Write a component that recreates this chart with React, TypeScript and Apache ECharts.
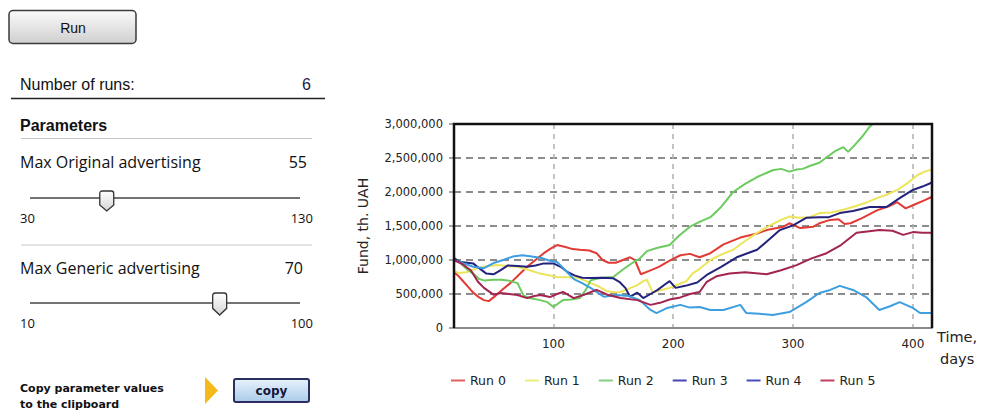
import React, { useEffect, useRef } from "react";
import * as echarts from "echarts";

const runNames = ["Run 0", "Run 1", "Run 2", "Run 3", "Run 4", "Run 5"];
const runColors = ["#e23a35", "#ece55a", "#6ccb5f", "#23237e", "#3d9ee0", "#a3244f"];
const legendColors = ["#e06060", "#ecec80", "#80d080", "#4646b8", "#4a4ac0", "#c04060"];

const run0 = [[17,820000],[21,760000],[25,680000],[29,600000],[33,520000],[38,450000],[42,410000],[46,395000],[50,450000],[57,560000],[64,660000],[71,780000],[78,900000],[85,1000000],[92,1100000],[98,1170000],[103,1220000],[110,1190000],[116,1160000],[122,1150000],[130,1140000],[136,1100000],[141,1000000],[146,960000],[152,960000],[158,1000000],[164,1040000],[168,1000000],[173,790000],[180,840000],[188,900000],[197,990000],[206,1070000],[214,1090000],[222,1040000],[231,1100000],[242,1230000],[256,1330000],[270,1390000],[278,1440000],[292,1490000],[297,1540000],[306,1470000],[317,1490000],[322,1540000],[331,1590000],[338,1600000],[343,1530000],[348,1540000],[358,1620000],[370,1730000],[380,1790000],[387,1850000],[394,1760000],[402,1820000],[410,1880000],[416,1930000]];
const run1 = [[17,840000],[21,810000],[27,820000],[35,870000],[42,900000],[53,925000],[62,910000],[70,900000],[78,860000],[87,810000],[95,780000],[103,750000],[112,745000],[120,740000],[126,700000],[131,660000],[138,610000],[145,540000],[150,525000],[156,530000],[163,580000],[170,630000],[175,690000],[178,710000],[183,520000],[190,560000],[197,590000],[204,640000],[211,690000],[216,800000],[222,870000],[231,1000000],[240,1080000],[250,1150000],[260,1280000],[270,1400000],[280,1500000],[290,1590000],[297,1640000],[305,1620000],[314,1630000],[322,1690000],[332,1700000],[342,1740000],[352,1790000],[362,1850000],[370,1910000],[378,1960000],[387,2030000],[397,2150000],[404,2250000],[410,2300000],[416,2330000]];
const run2 = [[17,1030000],[22,960000],[28,860000],[33,800000],[38,720000],[42,700000],[50,710000],[56,710000],[62,700000],[70,660000],[75,480000],[80,440000],[89,410000],[95,380000],[100,310000],[104,360000],[108,410000],[115,420000],[122,440000],[127,560000],[131,700000],[140,740000],[150,750000],[158,860000],[167,970000],[172,1020000],[178,1130000],[187,1180000],[197,1220000],[205,1360000],[214,1490000],[222,1560000],[231,1630000],[240,1780000],[250,2000000],[260,2120000],[270,2220000],[283,2320000],[290,2340000],[297,2300000],[303,2330000],[308,2340000],[315,2390000],[322,2430000],[328,2510000],[335,2600000],[342,2660000],[346,2590000],[352,2700000],[358,2820000],[364,2960000],[370,3060000],[376,3150000]];
const run3 = [[17,1030000],[22,970000],[28,960000],[33,950000],[38,880000],[44,800000],[50,790000],[56,850000],[62,920000],[70,910000],[78,900000],[85,920000],[92,950000],[100,950000],[106,900000],[112,820000],[118,770000],[124,740000],[131,735000],[140,740000],[150,730000],[155,680000],[160,590000],[164,460000],[170,520000],[175,440000],[181,500000],[187,560000],[193,640000],[197,690000],[202,590000],[210,620000],[220,670000],[228,780000],[240,900000],[253,1040000],[262,1100000],[270,1150000],[280,1300000],[289,1440000],[300,1510000],[311,1620000],[322,1630000],[330,1630000],[339,1690000],[350,1720000],[364,1780000],[378,1780000],[389,1910000],[400,2030000],[408,2080000],[416,2140000]];
const run4 = [[17,1000000],[25,950000],[33,900000],[42,880000],[50,955000],[58,1000000],[66,1050000],[74,1070000],[82,1050000],[90,1030000],[97,990000],[103,970000],[110,850000],[117,720000],[124,660000],[132,580000],[142,460000],[153,485000],[163,470000],[172,410000],[181,265000],[186,220000],[195,295000],[206,340000],[214,300000],[222,310000],[231,265000],[242,265000],[256,340000],[261,220000],[272,210000],[283,190000],[297,235000],[311,380000],[322,515000],[331,560000],[339,620000],[350,560000],[361,455000],[372,265000],[381,320000],[389,380000],[400,295000],[406,220000],[416,220000]];
const run5 = [[17,1000000],[24,940000],[31,850000],[37,680000],[42,590000],[50,490000],[56,515000],[63,500000],[70,485000],[78,440000],[84,470000],[89,485000],[97,455000],[103,500000],[108,530000],[113,480000],[117,440000],[125,485000],[136,560000],[145,490000],[156,440000],[170,410000],[181,340000],[189,370000],[197,420000],[206,450000],[214,500000],[222,530000],[228,680000],[236,760000],[247,800000],[260,820000],[278,790000],[290,850000],[303,925000],[315,1020000],[328,1100000],[340,1220000],[353,1400000],[362,1420000],[372,1440000],[383,1430000],[392,1370000],[400,1410000],[408,1400000],[416,1400000]];
const runData = [run0, run1, run2, run3, run4, run5];

const xMin = 17;
const xMax = 416;
const yMax = 3000000;
const yStep = 500000;

const numberOfRuns = "6";
const param1 = { label: "Max Original advertising", value: 55, min: 30, max: 130 };
const param2 = { label: "Max Generic advertising", value: 70, min: 10, max: 100 };

echarts.graphic.registerShape(
  "thumb",
  echarts.graphic.extendPath("M2.5,0 L11.5,0 Q14,0 14,2.5 L14,14 L7,20 L0,14 L0,2.5 Q0,0 2.5,0 Z", {})
);

const trackLeft = 30;
const trackRight = 300;
const thumbLeft = 39;
const thumbRight = 310;

function sliderX(p: { value: number; min: number; max: number }) {
  return thumbLeft + ((p.value - p.min) / (p.max - p.min)) * (thumbRight - thumbLeft);
}

const G = { left: 454, top: 124, width: 478, height: 204 };

function panelGraphics() {
  const txt = (x: number, y: number, text: string, font: string, fill = "#111", align = "left") => ({
    type: "text",
    x,
    y,
    style: { text, font, fill, textAlign: align, textVerticalAlign: "middle" },
  });
  const line = (x1: number, y1: number, x2: number, y2: number, stroke: string, w: number) => ({
    type: "line",
    shape: { x1, y1, x2, y2 },
    style: { stroke, lineWidth: w },
  });
  const thumbFill = {
    type: "linear", x: 0, y: 0, x2: 0, y2: 1,
    colorStops: [{ offset: 0, color: "#ffffff" }, { offset: 1, color: "#d4d4d4" }],
  };
  const t1 = sliderX(param1);
  const t2 = sliderX(param2);
  const labelFont = '16px "Open Sans"';
  return [
    {
      type: "rect",
      shape: { x: 9, y: 10.5, width: 127, height: 33, r: 4 },
      style: {
        fill: { type: "linear", x: 0, y: 0, x2: 0, y2: 1, colorStops: [{ offset: 0, color: "#fbfbfb" }, { offset: 1, color: "#cfcfcf" }] },
        stroke: "#3a3a3a",
        lineWidth: 1.5,
      },
    },
    txt(73, 27.5, "Run", '14px "Liberation Sans"', "#111", "center"),
    txt(20, 84, "Number of runs:", '16px "Liberation Sans"', "#111"),
    txt(311, 84, numberOfRuns, '16px "Liberation Sans"', "#1c1c4a", "right"),
    line(11, 98.5, 325, 98.5, "#222", 1.3),
    txt(20, 125, "Parameters", 'bold 16px "Liberation Sans"', "#111"),
    line(21, 138.5, 312, 138.5, "#c8c8c8", 1),
    txt(20, 162, param1.label, labelFont, "#111"),
    txt(307, 162, String(param1.value), '16px "Open Sans"', "#111", "right"),
    line(trackLeft, 198, trackRight, 198, "#444", 1.6),
    { type: "thumb", x: t1 - 7, y: 191, style: { fill: thumbFill, stroke: "#333", lineWidth: 1.3 } },
    txt(20, 218, String(param1.min), '13px "Open Sans"', "#111"),
    txt(313, 218, String(param1.max), '13px "Open Sans"', "#111", "right"),
    line(21, 245, 312, 245, "#c8c8c8", 1),
    txt(20, 268, param2.label, labelFont, "#111"),
    txt(303, 268, String(param2.value), '16px "Open Sans"', "#111", "right"),
    line(trackLeft, 303, trackRight, 303, "#444", 1.6),
    { type: "thumb", x: t2 - 7, y: 293, scaleY: 1.1, style: { fill: thumbFill, stroke: "#333", lineWidth: 1.3 } },
    txt(20, 323, String(param2.min), '13px "Open Sans"', "#111"),
    txt(313, 323, String(param2.max), '13px "Open Sans"', "#111", "right"),
    txt(20, 388, "Copy parameter values", 'bold 11px "DejaVu Sans"', "#111"),
    txt(20, 404, "to the clipboard", 'bold 11px "DejaVu Sans"', "#111"),
    {
      type: "polygon",
      shape: { points: [[205, 377], [218, 390.5], [205, 404]] },
      style: { fill: "#f6b91a" },
    },
    {
      type: "rect",
      shape: { x: 234, y: 379, width: 75, height: 23, r: 2 },
      style: {
        fill: { type: "linear", x: 0, y: 0, x2: 0, y2: 1, colorStops: [{ offset: 0, color: "#e8f3fc" }, { offset: 1, color: "#a9cbe9" }] },
        stroke: "#2b2e5e",
        lineWidth: 2,
      },
    },
    txt(271.5, 391, "copy", 'bold 12px "DejaVu Sans"', "#15153a", "center"),
    txt(937, 337, "Time,", '14.5px "DejaVu Sans"', "#222"),
    txt(940, 359, "days", '14.5px "DejaVu Sans"', "#222"),
    {
      type: "polyline",
      z: 100,
      shape: {
        points: [
          [G.left, G.top + G.height],
          [G.left, G.top],
          [G.left + G.width, G.top],
          [G.left + G.width, G.top + G.height],
        ],
      },
      style: { stroke: "#111", lineWidth: 2.5, fill: "none" },
    },
  ];
}

export default function App() {
  const ref = useRef<HTMLDivElement>(null);
  useEffect(() => {
    document.body.style.margin = "0";
    const chart = echarts.init(ref.current!, null, { renderer: "svg" });
    const option: any = {
      animation: false,
      backgroundColor: "#ffffff",
      grid: {
        left: G.left,
        top: G.top,
        width: G.width,
        height: G.height,
        show: false,
      },
      xAxis: {
        type: "value",
        min: xMin,
        max: xMax,
        splitNumber: 4,
        axisLine: { show: true, lineStyle: { color: "#8a8a8a", width: 2 } },
        axisTick: { show: false },
        axisLabel: {
          margin: 10,
          color: "#222",
          fontFamily: "DejaVu Sans",
          fontSize: 12,
          formatter: (v: number) => (v % 100 === 0 ? String(v) : ""),
        },
        splitLine: {
          show: true,
          showMinLine: false,
          showMaxLine: false,
          lineStyle: { color: "#b0b0b0", width: 1.5, type: [5, 5] },
        },
      },
      yAxis: {
        type: "value",
        min: 0,
        max: yMax,
        interval: yStep,
        name: "Fund, th. UAH",
        nameLocation: "middle",
        nameRotate: 90,
        nameGap: 84,
        nameTextStyle: { fontFamily: "DejaVu Sans", fontSize: 14, color: "#222" },
        axisLine: { show: false },
        axisTick: { show: true, length: 5, lineStyle: { color: "#888", width: 1.5 } },
        axisLabel: {
          margin: 11,
          color: "#222",
          fontFamily: "DejaVu Sans",
          fontSize: 11.5,
          formatter: (v: number) => v.toLocaleString("en-US"),
        },
        splitLine: {
          show: true,
          showMinLine: false,
          showMaxLine: false,
          lineStyle: { color: "#8c8c8c", width: 2, type: [7, 5] },
        },
      },
      legend: {
        left: 446,
        top: 369,
        icon: "rect",
        itemWidth: 14,
        itemHeight: 2,
        itemGap: 19,
        textStyle: { fontFamily: "DejaVu Sans", fontSize: 12.5, color: "#222" },
        data: runNames.map((n, i) => ({ name: n, itemStyle: { color: legendColors[i] } })),
      },
      graphic: panelGraphics(),
      series: runNames.map((n, i) => ({
        name: n,
        type: "line",
        data: runData[i],
        showSymbol: false,
        symbol: "none",
        clip: true,
        lineStyle: { color: runColors[i], width: 2 },
        itemStyle: { color: runColors[i] },
        z: 3,
      })),
    };
    chart.setOption(option);
    return () => chart.dispose();
  }, []);
  return (
    <div
      ref={ref}
      style={{ position: "absolute", left: 0, top: 0, width: 982, height: 410, background: "#fff" }}
    />
  );
}
